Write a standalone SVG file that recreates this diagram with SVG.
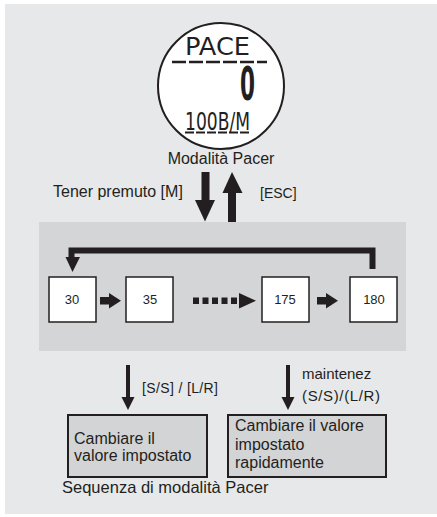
<svg xmlns="http://www.w3.org/2000/svg" width="437" height="517" viewBox="0 0 437 517">
<style>
text{font-family:"Liberation Sans",Arial,sans-serif;fill:#231f20}
.lbl{font-size:16px}
.num{font-size:13px;text-anchor:middle}
.box{fill:#fff;stroke:#231f20;stroke-width:1.5}
.gbox{fill:#d3d4d5;stroke:#231f20;stroke-width:2}
.lcd{font-family:"DejaVu Sans","Liberation Sans",sans-serif}
</style>
<rect x="0" y="0" width="437" height="517" fill="#fff"/>
<rect x="5" y="4" width="432" height="510" fill="#e7e8e9"/>
<rect x="39" y="222" width="367" height="129" fill="#d4d5d6"/>

<g id="watch">
<circle cx="221" cy="86" r="63" fill="#fff" stroke="#231f20" stroke-width="2"/>
<text class="lcd" x="185" y="55" font-size="25" textLength="65" lengthAdjust="spacingAndGlyphs">PACE</text>
<line x1="172" y1="62" x2="267" y2="62" stroke="#231f20" stroke-width="2.5" stroke-dasharray="14 3"/>
<text class="lcd" x="240" y="100" font-size="46" font-weight="bold" textLength="15" lengthAdjust="spacingAndGlyphs">0</text>
<text class="lcd" x="185" y="130" font-size="25" textLength="65" lengthAdjust="spacingAndGlyphs">100B/M</text>
<line x1="185" y1="132.5" x2="251" y2="132.5" stroke="#231f20" stroke-width="2" stroke-dasharray="9 2"/>
<text class="lbl" x="221" y="164" text-anchor="middle">Modalità Pacer</text>
</g>

<g id="n30"><rect class="box" x="49" y="277" width="47" height="45"/><text class="num" x="72" y="304">30</text></g>
<g id="n35"><rect class="box" x="126" y="277" width="47" height="45"/><text class="num" x="150" y="304">35</text></g>
<g id="n175"><rect class="box" x="262" y="277" width="47" height="45"/><text class="num" x="285" y="304">175</text></g>
<g id="n180"><rect class="box" x="350" y="277" width="47" height="45"/><text class="num" x="374" y="304">180</text></g>

<g id="slow"><rect class="gbox" x="68" y="415" width="139" height="62"/>
<text class="lbl" x="74" y="444">Cambiare il</text>
<text class="lbl" x="74" y="461">valore impostato</text></g>
<g id="fast"><rect class="gbox" x="228" y="415" width="158" height="62"/>
<text class="lbl" x="235" y="431">Cambiare il valore</text>
<text class="lbl" x="235" y="449.5">impostato</text>
<text class="lbl" x="235" y="468">rapidamente</text></g>

<g id="connectors" fill="#231f20">
<rect x="201.5" y="172" width="8" height="29"/>
<polygon points="195,200 215,200 205,221.5"/>
<rect x="228" y="192" width="8" height="30"/>
<polygon points="222.5,193 242.5,193 232,172"/>
<path d="M372.5 269 V250.5 H71.5 V258" fill="none" stroke="#231f20" stroke-width="6"/>
<polygon points="65.5,257 80,257 72.5,272"/>
<rect x="100" y="297" width="10" height="7.5"/>
<polygon points="109,293 109,308.5 121,300.7"/>
<rect x="317" y="297" width="10" height="7.5"/>
<polygon points="326,293 326,308.5 338,300.7"/>
<rect x="193" y="297.5" width="6" height="6.5"/>
<rect x="202.5" y="297.5" width="6" height="6.5"/>
<rect x="212" y="297.5" width="6" height="6.5"/>
<rect x="221.5" y="297.5" width="6" height="6.5"/>
<rect x="231" y="297.5" width="6" height="6.5"/>
<polygon points="239,293 239,308.5 256,300.7"/>
<rect x="126" y="365" width="4" height="33"/>
<polygon points="121.5,397 134.5,397 128,410"/>
<rect x="286" y="365" width="4" height="33"/>
<polygon points="281.5,397 294.5,397 288,410"/>
</g>

<text class="lbl" x="53" y="197">Tener premuto [M]</text>
<text x="260" y="198" font-size="14">[ESC]</text>
<text x="142" y="393" font-size="14" textLength="76">[S/S] / [L/R]</text>
<text x="302" y="379" font-size="15">maintenez</text>
<text x="302" y="401" font-size="15" textLength="78">(S/S)/(L/R)</text>
<text x="62" y="493" font-size="16.5">Sequenza di modalità Pacer</text>
</svg>
